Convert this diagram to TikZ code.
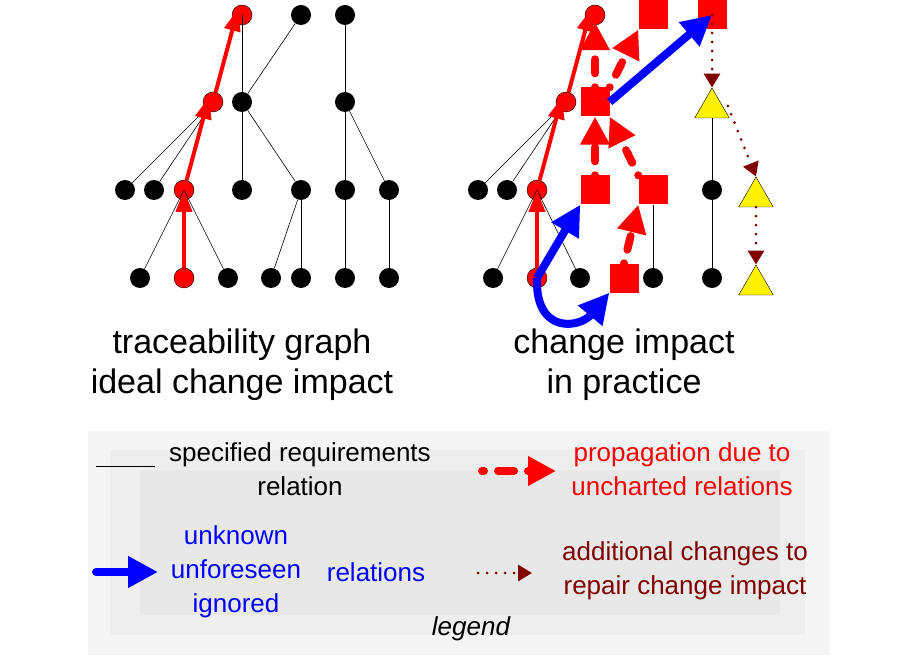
\documentclass[tikz,border=0pt]{standalone}
\usepackage{fontspec}
\setmainfont{Liberation Sans}
\usetikzlibrary{arrows.meta,shapes.geometric}
\definecolor{darkred}{RGB}{128,0,0}
\begin{document}
\begin{tikzpicture}[x=1pt,y=-1pt,
	dot/.style={circle,fill=black,inner sep=0pt,minimum size=20pt},
	hit/.style={circle,draw=black,fill=red,inner sep=0pt,minimum size=20pt},
	box/.style={rectangle,fill=red,inner sep=0pt,minimum size=29pt},
	tri/.style={regular polygon,regular polygon sides=3,draw=black,fill=yellow,inner sep=0pt,minimum size=40pt},
	rel/.style={black,line width=0.6pt},
	prop/.style={red,line width=4pt,-{Triangle[length=22pt,width=16pt]}},
	uncharted/.style={red,line width=8pt,line cap=round,dash pattern=on 0pt off 14pt on 12pt off 2pt,-{Triangle[length=28pt,width=28pt]}},
	unforeseen/.style={blue,line width=8pt,-{Triangle[length=30pt,width=30pt]}},
	repair/.style={darkred,line width=3pt,line cap=round,dash pattern=on 0pt off 9pt,-{Triangle[length=14pt,width=16pt]}},
	title/.style={font=\fontsize{34}{40}\selectfont,align=center},
	lgd/.style={font=\fontsize{26}{34}\selectfont,align=center}]
	\useasboundingbox (0,0) rectangle (920,660);
	% legend background
	\fill[gray!8] (88,431) rectangle (830,655);
	\fill[gray!13] (110,450) rectangle (805,635);
	\fill[gray!18] (140,470) rectangle (780,615);
	% left graph: traceability graph
	\node[hit] (a1) at (242,15) {};
	\node[dot] (a2) at (301,15) {};
	\node[dot] (a3) at (345,15) {};
	\node[hit] (b1) at (213,102) {};
	\node[dot] (b2) at (242,102) {};
	\node[dot] (b3) at (345,102) {};
	\node[dot] (c1) at (125,190) {};
	\node[dot] (c2) at (154,190) {};
	\node[hit] (c3) at (184,190) {};
	\node[dot] (c4) at (242,190) {};
	\node[dot] (c5) at (301,190) {};
	\node[dot] (c6) at (345,190) {};
	\node[dot] (c7) at (389,190) {};
	\node[dot] (d1) at (140,278) {};
	\node[hit] (d2) at (184,278) {};
	\node[dot] (d3) at (228,278) {};
	\node[dot] (d4) at (271,278) {};
	\node[dot] (d5) at (301,278) {};
	\node[dot] (d6) at (345,278) {};
	\node[dot] (d7) at (389,278) {};
	\draw[rel] (a1.center) -- (b2);
	\draw[rel] (a2) -- (b2);
	\draw[rel] (a3) -- (b3);
	\draw[rel] (b1) -- (c1);
	\draw[rel] (b1) -- (c2);
	\draw[rel] (b2) -- (c4);
	\draw[rel] (b2) -- (c5);
	\draw[rel] (b3) -- (c6);
	\draw[rel] (b3) -- (c7);
	\draw[rel] (c3.center) -- (d1);
	\draw[rel] (c3.center) -- (d3);
	\draw[rel] (c5) -- (d4);
	\draw[rel] (c5) -- (d5);
	\draw[rel] (c6) -- (d6);
	\draw[rel] (c7) -- (d7);
	\draw[prop] (d2) -- (c3.center);
	\draw[prop] (c3) -- ([xshift=-4pt,yshift=5pt]b1.center);
	\draw[prop] (b1) -- ([xshift=-4pt,yshift=6pt]a1.center);
	\node[title] (t1) at (242,365) {traceability graph\\ideal change impact};
	% right graph: change impact in practice
	\node[hit] (p1) at (595,15) {};
	\node[box] (q1) at (653,15) {};
	\node[box] (q2) at (712,15) {};
	\node[hit] (p2) at (566,102) {};
	\node[box] (q3) at (595,102) {};
	\node[tri] (r1) at (712,108) {};
	\node[dot] (p3) at (478,190) {};
	\node[dot] (p4) at (507,190) {};
	\node[hit] (p5) at (537,190) {};
	\node[box] (q4) at (595,190) {};
	\node[box] (q5) at (653,190) {};
	\node[dot] (p6) at (712,190) {};
	\node[tri] (r2) at (756,197) {};
	\node[dot] (p7) at (493,278) {};
	\node[hit] (p8) at (537,278) {};
	\node[dot] (p9) at (580,278) {};
	\node[box] (q6) at (624,278) {};
	\node[dot] (p10) at (653,278) {};
	\node[dot] (p11) at (712,278) {};
	\node[tri] (r3) at (756,285) {};
	\draw[rel] (p2) -- (p3);
	\draw[rel] (p2) -- (p4);
	\draw[rel] (p5.center) -- (p7);
	\draw[rel] (p5.center) -- (p9);
	\draw[rel] (q5) -- (p10);
	\draw[rel] (r1) -- (p6);
	\draw[rel] (p6) -- (p11);
	\draw[prop] (p8) -- (p5.center);
	\draw[prop] (p5) -- ([xshift=-4pt,yshift=5pt]p2.center);
	\draw[prop] (p2) -- ([xshift=-4pt,yshift=6pt]p1.center);
	\draw[uncharted] (q3.north) -- ([yshift=3pt]p1.south);
	\draw[uncharted] (q3.north east) -- (q1.south west);
	\draw[uncharted] (q4.north) -- (q3.south);
	\draw[uncharted] (q5.north west) -- (q3.south east);
	\draw[uncharted] (q6.north) -- (q5.south west);
	\draw[unforeseen] (q3.east) -- (q2.center);
	\draw[unforeseen] (p8.center) -- (q4.south west);
	\draw[unforeseen] (p8.center) .. controls (535,335) and (580,328) .. (q6.south west);
	\draw[repair] (q2.center) -- (r1.north);
	\draw[repair] ([xshift=4pt,yshift=2pt]r1.east) -- (r2.north);
	\draw[repair] (r2.south) -- (r3.north);
	\node[title] (t2) at (624,365) {change impact\\in practice};
	% legend
	\coordinate (l1a) at (96,466);
	\coordinate (l1b) at (155,466);
	\draw[rel] (l1a) -- (l1b);
	\node[lgd] (s1) at (300,469) {specified requirements\\relation};
	\coordinate (l2a) at (482,471);
	\coordinate (l2b) at (556,471);
	\draw[uncharted,dash pattern=on 2pt off 14pt on 12pt off 2pt] (l2a) -- (l2b);
	\node[lgd,text=red] (s2) at (682,469) {propagation due to\\uncharted relations};
	\coordinate (l3a) at (96,572);
	\coordinate (l3b) at (158,572);
	\draw[unforeseen,line cap=round] (l3a) -- (l3b);
	\node[lgd,text=blue,font=\fontsize{26}{34}\selectfont] (s3) at (236,572) {unknown\\unforeseen\\ignored};
	\node[lgd,text=blue] (s4) at (376,572) {relations};
	\coordinate (l4a) at (478,573);
	\coordinate (l4b) at (532,573);
	\draw[repair] (l4a) -- (l4b);
	\node[lgd,text=darkred] (s5) at (685,571) {additional changes to\\repair change impact};
	\node[lgd,font=\fontsize{26}{34}\selectfont\itshape] (s6) at (471,629) {legend};
\end{tikzpicture}
\end{document}
